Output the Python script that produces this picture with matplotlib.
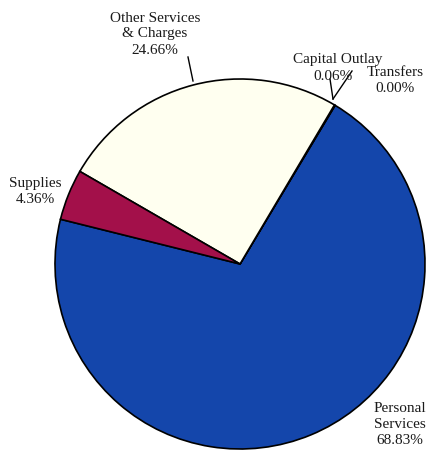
import matplotlib
matplotlib.use("Agg")
import matplotlib.pyplot as plt

categories = ["Personal\nServices", "Transfers", "Capital Outlay", "Other Services\n& Charges", "Supplies"]
values = [68.83, 0.00, 0.06, 24.66, 4.36]
colors = ["#1446ab", "#1446ab", "#fffff0", "#fffff0", "#a3104a"]

plt.rcParams["font.family"] = ["Liberation Serif", "DejaVu Serif"]

W, H = 432, 456
CX, CY, R = 240, 265, 185

fig = plt.figure(figsize=(W / 100, H / 100), dpi=100)
ax = fig.add_axes([0, 0, 1, 1])
ax.pie(values, colors=colors, startangle=166, counterclock=True,
       wedgeprops=dict(edgecolor="black", linewidth=1.2), radius=1.0)
ax.set_xlim(-CX / R, (W - CX) / R)
ax.set_ylim(-(H - CY) / R, CY / R)
ax.set_aspect("auto")
ax.axis("off")


def px(x, y):
    """Convert pixel position (from top-left) to data coordinates."""
    return (x - CX) / R, (CY - y) / R


fs = 11
txt = dict(fontsize=fs, ha="center", va="center", color="#1a1a1a", linespacing=1.3)

ax.text(*px(155, 34), f"Other Services\n& Charges\n{values[3]:.2f}%", **txt)
ax.text(*px(35, 192), f"Supplies\n{values[4]:.2f}%", **txt)
ax.text(*px(400, 424), f"Personal\nServices\n{values[0]:.2f}%", **txt)
ax.text(*px(338, 60), "Capital Outlay", **txt)
ax.text(*px(333, 77), f"{values[2]:.2f}%", **txt)
ax.text(*px(395, 81), f"Transfers\n{values[1]:.2f}%", **txt)

# leader lines
for (x0, y0), (x1, y1) in [((193, 82), (188, 58)),
                           ((333, 100), (330, 80)),
                           ((333, 100), (352, 72))]:
    a, b = px(x0, y0)
    c, d = px(x1, y1)
    ax.plot([a, c], [b, d], color="black", lw=1.0)

fig.savefig("out.png", dpi=100)
